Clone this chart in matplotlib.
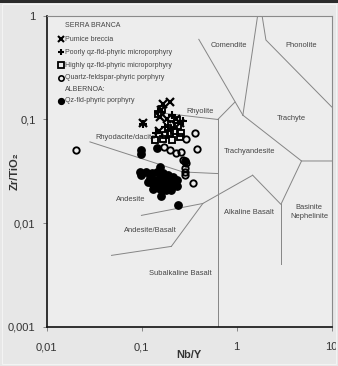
import matplotlib
matplotlib.use("Agg")
import matplotlib.pyplot as plt
from matplotlib.ticker import FixedLocator, FuncFormatter, NullLocator
from matplotlib.patches import Rectangle

plt.rcParams['font.family'] = ['Liberation Sans', 'DejaVu Sans']

# Serra Branca samples: Nb/Y and Zr/TiO2
pumice_nby = [0.197, 0.1024, 0.158, 0.1545, 0.183, 0.2275, 0.2505, 0.151, 0.166]
pumice_zr = [0.147, 0.0921, 0.123, 0.1053, 0.1007, 0.1007, 0.0921, 0.0771, 0.1406]

poorly_nby = [0.1024, 0.147, 0.2065, 0.269, 0.174, 0.2015, 0.140]
poorly_zr = [0.0901, 0.1176, 0.110, 0.0964, 0.0843, 0.0806, 0.0738]

highly_nby = [0.162, 0.147, 0.2015, 0.239, 0.217, 0.2565, 0.1875, 0.174,
              0.137, 0.166, 0.2065, 0.233, 0.2505, 0.197]
highly_zr = [0.1257, 0.1125, 0.0901, 0.0862, 0.0771, 0.0738, 0.0824, 0.0706,
             0.0631, 0.0645, 0.0631, 0.0985, 0.0675, 0.0738]

qfp_nby = [0.0203, 0.36, 0.2895, 0.3775, 0.2275, 0.197, 0.2565, 0.170,
           0.2895, 0.2825, 0.2825, 0.2825, 0.343, 0.269]
qfp_zr = [0.0506, 0.0738, 0.0645, 0.0517, 0.0473, 0.0506, 0.0483, 0.054,
          0.0379, 0.0339, 0.031, 0.029, 0.0243, 0.0405]

# Albernoa samples
alb_nby = [0.0976, 0.0993, 0.1436, 0.1545, 0.0953, 0.0976, 0.127, 0.1436,
           0.166, 0.189, 0.2115, 0.233, 0.121, 0.137, 0.1545, 0.174, 0.197,
           0.127, 0.149, 0.166, 0.189, 0.2115, 0.130, 0.1545, 0.182, 0.204,
           0.1156, 0.161, 0.161, 0.239, 0.2825, 0.233, 0.110]
alb_zr = [0.0506, 0.0462, 0.0525, 0.0347, 0.0312, 0.029, 0.0303, 0.0312,
          0.0303, 0.029, 0.028, 0.0259, 0.0271, 0.0259, 0.0271, 0.0259, 0.025,
          0.0243, 0.0232, 0.0243, 0.0232, 0.0232, 0.0215, 0.0215, 0.0208, 0.0208,
          0.025, 0.029, 0.0182, 0.0149, 0.040, 0.0227, 0.031]

# Winchester & Floyd field boundaries (Nb/Y, Zr/TiO2)
field_lines = [
    ([0.399, 1.161], [0.592, 0.110]),
    ([1.66, 1.161], [1.0, 0.110]),
    ([1.85, 2.03, 10.0], [1.0, 0.583, 0.132]),
    ([1.161, 4.81, 10.0], [0.110, 0.0398, 0.0398]),
    ([0.632, 0.957], [0.1, 0.147]),
    ([0.137, 0.632], [0.1176, 0.1]),
    ([0.0285, 0.271, 0.632], [0.0608, 0.0312, 0.0301]),
    ([0.632, 0.632], [0.1, 0.001]),
    ([0.0993, 0.440], [0.0119, 0.0155]),
    ([0.0481, 0.205], [0.0049, 0.00598]),
    ([0.205, 0.440, 1.472], [0.00598, 0.0155, 0.029]),
    ([1.472, 2.92, 4.81], [0.029, 0.0152, 0.0398]),
    ([2.92, 2.92], [0.0152, 0.00407]),
]

field_names = ["Comendite", "Phonolite", "Rhyolite", "Trachyte", "Trachyandesite",
               "Rhyodacite/dacite", "Andesite", "Andesite/Basalt", "Subalkaline Basalt",
               "Alkaline Basalt", "Basinite\nNephelinite"]
field_x = [0.837, 4.74, 0.411, 3.72, 1.36, 0.068, 0.0768, 0.124, 0.2565, 1.36, 5.79]
field_y = [0.521, 0.521, 0.1195, 0.102, 0.0487, 0.0667, 0.0169, 0.00853, 0.0033, 0.0128, 0.0128]

xticks = [0.01, 0.1, 1, 10]
yticks = [0.001, 0.01, 0.1, 1]


def comma_fmt(v, pos):
    s = ("%g" % v)
    return s.replace(".", ",")


fig = plt.figure(figsize=(3.38, 3.66), dpi=100, facecolor="#e7e7e7")
fig.patches.append(Rectangle((0, 1 - 3 / 366), 1, 3 / 366, transform=fig.transFigure,
                             facecolor="#2b2b2b", edgecolor="none"))
fig.patches.append(Rectangle((0.006, 0.006), 0.988, 0.982, transform=fig.transFigure,
                             facecolor="none", edgecolor="#f3f3f3", lw=0.8))

ax = fig.add_axes([0.1382, 0.1066, 0.8432, 0.8505])
ax.set_facecolor("#ededed")
ax.set_xscale("log")
ax.set_yscale("log")
ax.set_xlim(0.01, 10)
ax.set_ylim(0.001, 1)

for xs, ys in field_lines:
    ax.plot(xs, ys, color="#858585", lw=0.7, zorder=1)

for name, x, y in zip(field_names, field_x, field_y):
    ax.text(x, y, name, fontsize=5.4, color="#444444", ha="center", va="center",
            linespacing=1.5, zorder=2)

ax.plot(alb_nby, alb_zr, "o", ms=5.3, color="black", zorder=3)
ax.plot(qfp_nby, qfp_zr, "o", ms=4.6, mfc="none", mec="black", mew=1.35, zorder=4)
ax.plot(highly_nby, highly_zr, "s", ms=4.6, mfc="none", mec="black", mew=1.35, zorder=4)
ax.plot(poorly_nby, poorly_zr, "+", ms=6, color="black", mew=1.5, zorder=5)
ax.plot(pumice_nby, pumice_zr, "x", ms=5.3, color="black", mew=1.6, zorder=5)

# legend block, top left
leg_rows = [
    (None, "SERRA BRANCA"),
    (dict(marker="x", ms=4, color="black", mew=1.5), "Pumice breccia"),
    (dict(marker="+", ms=5, color="black", mew=1.5), "Poorly qz-fld-phyric microporphyry"),
    (dict(marker="s", ms=4, mfc="none", mec="black", mew=1.3), "Highly qz-fld-phyric microporphyry"),
    (dict(marker="o", ms=3.8, mfc="none", mec="black", mew=1.2), "Quartz-feldspar-phyric porphyry"),
    (None, "ALBERNOA:"),
    (dict(marker="o", ms=4.2, color="black"), "Qz-fld-phyric porphyry"),
]
row_y = [0.967, 0.924, 0.882, 0.841, 0.801, 0.764, 0.726]
for (style, label), y in zip(leg_rows, row_y):
    if style is not None:
        ax.plot([0.050], [y], transform=ax.transAxes, linestyle="none",
                clip_on=False, zorder=6, **style)
    ax.text(0.064, y, label, transform=ax.transAxes, fontsize=5.0,
            color="#444444", ha="left", va="center", zorder=6)

ax.xaxis.set_major_locator(FixedLocator(xticks))
ax.yaxis.set_major_locator(FixedLocator(yticks))
ax.xaxis.set_minor_locator(NullLocator())
ax.yaxis.set_minor_locator(NullLocator())
ax.xaxis.set_major_formatter(FuncFormatter(comma_fmt))
ax.yaxis.set_major_formatter(FuncFormatter(comma_fmt))
ax.tick_params(axis="x", direction="out", length=3, width=0.6, color="#777777",
               labelsize=8, labelcolor="#333333", pad=8)
ax.tick_params(axis="y", direction="out", length=3, width=0.6, color="#777777",
               labelsize=8, labelcolor="#333333", pad=5)

for side in ("left", "bottom"):
    ax.spines[side].set_color("#111111")
    ax.spines[side].set_linewidth(1.2)
for side in ("top", "right"):
    ax.spines[side].set_color("#8a8a8a")
    ax.spines[side].set_linewidth(0.8)

ax.set_xlabel("Nb/Y", fontsize=8, fontweight="bold", color="#333333")
ax.set_ylabel("Zr/TiO₂", fontsize=8, fontweight="bold", color="#333333")
ax.xaxis.set_label_coords(0.5, -0.074)
ax.yaxis.set_label_coords(-0.094, 0.5)

fig.savefig("out.png", dpi=100, facecolor=fig.get_facecolor())
